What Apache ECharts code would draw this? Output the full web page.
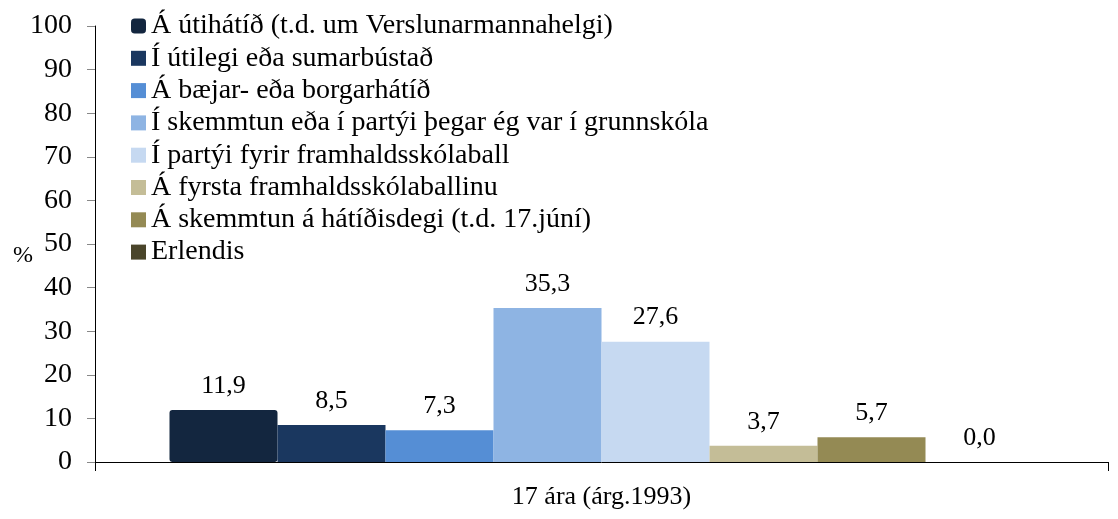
<!DOCTYPE html>
<html>
<head>
<meta charset="utf-8">
<script src="https://cdn.jsdelivr.net/npm/echarts@6/dist/echarts.min.js"></script>
<style>
  html, body { margin: 0; padding: 0; background: #fff; }
  #main { width: 1118px; height: 519px; }
</style>
</head>
<body>
<div id="main"></div>
<script>
var myChart = echarts.init(document.getElementById('main'))

var categories = ['17 ára (árg.1993)']
var seriesNames = [
  'Á útihátíð (t.d. um Verslunarmannahelgi)',
  'Í útilegi eða sumarbústað',
  'Á bæjar- eða borgarhátíð',
  'Í skemmtun eða í partýi þegar ég var í grunnskóla',
  'Í partýi fyrir framhaldsskólaball',
  'Á fyrsta framhaldsskólaballinu',
  'Á skemmtun á hátíðisdegi (t.d. 17.júní)',
  'Erlendis'
]
var values = [11.9, 8.5, 7.3, 35.3, 27.6, 3.7, 5.7, 0.0]
var colorConfig = ['#13263f', '#1a375f', '#558ed5', '#8eb4e3', '#c6d9f1', '#c4bd97', '#948a54', '#4a452a']

var font = 'Liberation Serif'

var series = []
for (let index = 0; index < seriesNames.length; index++) {
  series.push({
    name: seriesNames[index],
    type: 'bar',
    barWidth: 108,
    barGap: '0%',
    data: [values[index]],
    itemStyle: {
      color: colorConfig[index],
      borderRadius: index === 0 ? 3 : 0,
    },
    label: {
      show: true,
      position: 'top',
      distance: 11,
      color: '#000',
      fontFamily: font,
      fontSize: 26,
      formatter: function (params) {
        return params.value.toFixed(1).replace('.', ',')
      },
    },
  })
}

var legendData = []
for (let index = 0; index < seriesNames.length; index++) {
  legendData.push({
    name: seriesNames[index],
    icon: index === 0 ? 'roundRect' : 'rect',
  })
}

var option = {
  animation: false,
  backgroundColor: '#fff',
  grid: {
    left: 95,
    right: 10,
    top: 26,
    bottom: 57,
  },
  legend: {
    orient: 'vertical',
    left: 126,
    top: 7,
    itemWidth: 15,
    itemHeight: 15,
    itemGap: 4.3,
    textStyle: {
      fontFamily: font,
      fontSize: 28,
      color: '#000',
      lineHeight: 28,
    },
    data: legendData,
  },
  xAxis: {
    type: 'category',
    data: categories,
    axisLine: { lineStyle: { color: '#000', width: 1 } },
    axisTick: { show: true, length: 9, lineStyle: { color: '#000' } },
    axisLabel: {
      color: '#000',
      fontFamily: font,
      fontSize: 26,
      margin: 22,
    },
  },
  yAxis: {
    type: 'value',
    min: 0,
    max: 100,
    interval: 10,
    name: '%',
    nameLocation: 'middle',
    nameRotate: 0,
    nameGap: 62,
    nameMoveOverlap: false,
    nameTextStyle: { color: '#000', fontFamily: font, fontSize: 24, verticalAlign: 'top' },
    splitLine: { show: false },
    axisLine: { show: true, lineStyle: { color: '#000', width: 1 } },
    axisTick: { show: true, length: 8, lineStyle: { color: '#888' } },
    axisLabel: {
      color: '#000',
      fontFamily: font,
      fontSize: 28,
      margin: 23,
    },
  },
  series: series,
}

myChart.setOption(option)
</script>
</body>
</html>
